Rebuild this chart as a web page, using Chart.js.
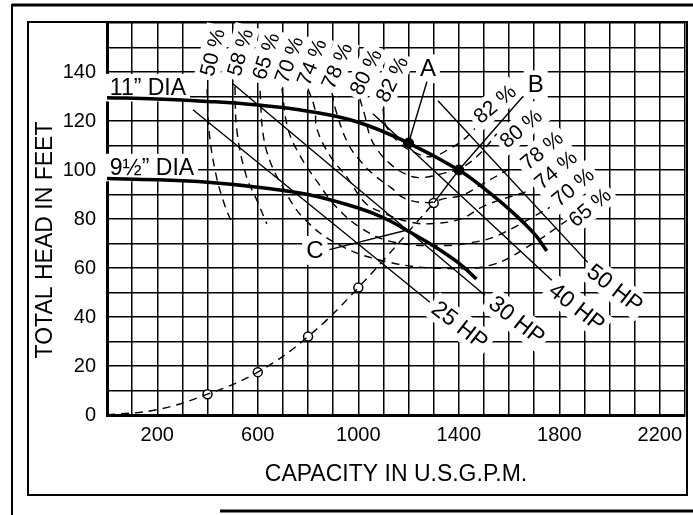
<!DOCTYPE html>
<html>
<head>
<meta charset="utf-8">
<script src="https://cdn.jsdelivr.net/npm/chart.js@4.4.0/dist/chart.umd.min.js"></script>
<style>
  html, body { margin: 0; padding: 0; background: #fff; }
</style>
</head>
<body>
<canvas id="myChart" width="693" height="515"></canvas>
<script>
// Valori: portata (U.S. GPM) e prevalenza (feet)
var capTicks = [200, 600, 1000, 1400, 1800, 2200];
var headTicks = [0, 20, 40, 60, 80, 100, 120, 140];

// curve delle giranti
var dia11 = [[0,129.5],[200,129],[400,128],[600,126.5],[800,124],[1000,119.5],[1200,111],[1400,100],[1500,92.5],[1600,84],[1700,74],[1750,67]];
var dia95 = [[0,96.5],[200,96],[400,95],[600,93],[800,90],[1000,84.5],[1100,80.5],[1200,75],[1300,69],[1400,62],[1470,55.5]];

// linee di potenza
var hp25 = [[342,124.6],[1285,46]];
var hp30 = [[501,135.2],[1504,48.9]];
var hp40 = [[1058,123],[1770,55]];
var hp50 = [[1317,128.3],[1913,62.3]];

// curve di rendimento
var eff50 = [[398,133],[406,116],[434,98],[469,85.5],[501,77.5]];
var eff58 = [[509,134],[517,116],[553,98],[597,87.5],[636,78]];
var eff65 = [[609,132.3],[621,114.8],[648,103.8],[696,93.7],[780,80.6],[927,69.2],[1126,62.3],[1325,59.9],[1524,61.1],[1683,69.2],[1830,79.4]];
var eff70 = [[696,133.2],[720,116.9],[768,105.9],[847,93.7],[907,85.5],[1014,76.1],[1146,70.4],[1333,69.2],[1452,70.4],[1555,73.3],[1762,84.7]];
var eff74 = [[800,133.2],[827,125],[835,116.9],[887,105.9],[959,96.5],[1026,86.7],[1094,82.7],[1213,78.6],[1305,78.2],[1412,80.2],[1504,85.5],[1683,91.6]];
var eff78 = [[895,131.5],[911,124.2],[959,110.8],[1014,103],[1066,97.7],[1130,92.8],[1185,88.4],[1277,86.7],[1345,88.4],[1412,89.6],[1484,93.7],[1603,100.6]];
var eff80 = [[1006,129.1],[1026,122.2],[1046,114],[1078,107.9],[1126,102.6],[1185,98.5],[1245,96.9],[1333,98.5],[1412,101],[1484,106.7],[1551,114.8]];
var eff82 = [[1098,125],[1110,118.1],[1166,110.8],[1225,107.1],[1293,105.5],[1364,108.7],[1424,112.8],[1464,116.9]];

// curva dell'impianto e punti di lavoro
var system = [[0,0],[200,2.2],[400,8.5],[600,17.5],[800,32],[1000,52],[1300,86.5]];
var systemMarks = [[400,8.5],[600,17.5],[800,32],[1000,52],[1300,86.5]];
var dutyPoints = [[1200,111],[1400,100]];
var leaderA = [[1200,111],[1273,136]];
var leaderB = [[1300,86.5],[1400,100],[1655,130]];
var leaderC = [[885,67.5],[1195,75.5]];

function pts(a) { return a.map(function (p) { return { x: p[0], y: p[1] }; }); }

var FONT = '"Liberation Sans", Arial, Helvetica, sans-serif';

function thick(d) { return { data: pts(d), borderColor: '#000', borderWidth: 3.5, tension: 0.4, pointRadius: 0 }; }
function thin(d) { return { data: pts(d), borderColor: '#000', borderWidth: 1.4, tension: 0, pointRadius: 0 }; }
function dashed(d) { return { data: pts(d), borderColor: '#000', borderWidth: 1.4, borderDash: [8, 6], tension: 0.4, pointRadius: 0 }; }

// scritte sul grafico (in coordinate dei dati)
var notes = [
  { t: '11\u201D DIA', q: 163, h: 133.6, r: 0, s: 23 },
  { t: '9\u00BD\u201D DIA', q: 179, h: 101, r: 0, s: 23 },
  { t: '50 %', q: 420, h: 148, r: -76, s: 21 },
  { t: '58 %', q: 530, h: 148, r: -74, s: 21 },
  { t: '65 %', q: 632, h: 146.5, r: -72, s: 21 },
  { t: '70 %', q: 724, h: 145, r: -70, s: 21 },
  { t: '74 %', q: 815, h: 144, r: -68, s: 21 },
  { t: '78 %', q: 915, h: 142.5, r: -66, s: 21 },
  { t: '80 %', q: 1030, h: 140, r: -64, s: 21 },
  { t: '82 %', q: 1134, h: 137, r: -64, s: 21 },
  { t: '82 %', q: 1543, h: 127, r: -40, s: 21 },
  { t: '80 %', q: 1647, h: 117, r: -40, s: 21 },
  { t: '78 %', q: 1730, h: 108, r: -40, s: 21 },
  { t: '74 %', q: 1786, h: 100, r: -40, s: 21 },
  { t: '70 %', q: 1854, h: 93, r: -40, s: 21 },
  { t: '65 %', q: 1921, h: 84.7, r: -40, s: 21 },
  { t: '25 HP', q: 1404, h: 36.6, r: 38, s: 23 },
  { t: '30 HP', q: 1631, h: 38.7, r: 38, s: 23 },
  { t: '40 HP', q: 1870, h: 44, r: 38, s: 23 },
  { t: '50 HP', q: 2021, h: 51.7, r: 38, s: 23 },
  { t: 'A', q: 1277, h: 141.3, r: 0, s: 24 },
  { t: 'B', q: 1706, h: 134.8, r: 0, s: 24 },
  { t: 'C', q: 827, h: 67.2, r: 0, s: 24 }
];

function eachNote(chart, fn) {
  var ctx = chart.ctx, xs = chart.scales.x, ys = chart.scales.y;
  notes.forEach(function (n) {
    ctx.save();
    ctx.translate(xs.getPixelForValue(n.q), ys.getPixelForValue(n.h));
    ctx.rotate(n.r * Math.PI / 180);
    ctx.font = n.s + 'px ' + FONT;
    ctx.textAlign = 'center';
    ctx.textBaseline = 'middle';
    fn(ctx, n);
    ctx.restore();
  });
}

var frames = {
  id: 'frames',
  beforeDraw: function (chart) {
    var ctx = chart.ctx;
    ctx.save();
    ctx.fillStyle = '#fff';
    ctx.fillRect(0, 0, chart.width, chart.height);
    ctx.strokeStyle = '#000';
    ctx.lineWidth = 3;
    ctx.beginPath();
    ctx.moveTo(12, 5); ctx.lineTo(693, 5);
    ctx.moveTo(220, 511); ctx.lineTo(693, 511);
    ctx.stroke();
    ctx.lineWidth = 2;
    ctx.beginPath();
    ctx.moveTo(12, 4); ctx.lineTo(12, 515);
    ctx.stroke();
    ctx.strokeRect(28, 22, 659, 473);
    // titolo asse verticale
    ctx.translate(46, 240);
    ctx.rotate(-Math.PI / 2);
    ctx.font = '23px ' + FONT;
    ctx.fillStyle = '#000';
    ctx.textAlign = 'center';
    ctx.textBaseline = 'middle';
    ctx.fillText('TOTAL HEAD IN FEET', 0, 0);
    ctx.restore();
  },
  beforeDatasetsDraw: function (chart) {
    eachNote(chart, function (ctx, n) {
      var w = ctx.measureText(n.t).width;
      ctx.fillStyle = '#fff';
      ctx.fillRect(-w / 2 - 4, -n.s * 0.6, w + 8, n.s * 1.2);
    });
  },
  afterDatasetsDraw: function (chart) {
    eachNote(chart, function (ctx, n) {
      ctx.fillStyle = '#000';
      ctx.fillText(n.t, 0, 1);
    });
  }
};

var ctx = document.getElementById('myChart').getContext('2d');
var chart = new Chart(ctx, {
  type: 'line',
  data: {
    datasets: [
      thick(dia11), thick(dia95),
      thin(hp25), thin(hp30), thin(hp40), thin(hp50),
      dashed(eff50), dashed(eff58), dashed(eff65), dashed(eff70),
      dashed(eff74), dashed(eff78), dashed(eff80), dashed(eff82),
      dashed(system),
      thin(leaderA), thin(leaderB), thin(leaderC),
      { data: pts(systemMarks), showLine: false, pointRadius: 4.5, pointBackgroundColor: '#fff', pointBorderColor: '#000', pointBorderWidth: 1.5 },
      { data: pts(dutyPoints), showLine: false, pointRadius: 5, pointBackgroundColor: '#000', pointBorderColor: '#000' }
    ]
  },
  options: {
    responsive: false,
    animation: false,
    devicePixelRatio: 1,
    layout: { padding: { top: 22, right: 6, left: 0, bottom: 0 } },
    plugins: { legend: { display: false }, tooltip: { enabled: false } },
    scales: {
      x: {
        type: 'linear', min: 0, max: 2300,
        afterFit: function (s) { s.height = 100; },
        ticks: {
          stepSize: 100, autoSkip: false, maxRotation: 0, padding: 8, color: '#000',
          font: { family: FONT, size: 20 },
          callback: function (v) { return capTicks.indexOf(v) >= 0 ? String(v) : ''; }
        },
        grid: { color: '#000', lineWidth: 1.5, drawTicks: false },
        border: { color: '#000', width: 3 },
        title: { display: true, text: 'CAPACITY IN U.S.G.P.M.', color: '#000', font: { family: FONT, size: 23 }, padding: { top: 0, bottom: 27 } }
      },
      y: {
        type: 'linear', min: 0, max: 160,
        afterFit: function (s) { s.width = 107; },
        ticks: {
          stepSize: 10, autoSkip: false, padding: 11, color: '#000',
          font: { family: FONT, size: 20 },
          callback: function (v) { return headTicks.indexOf(v) >= 0 ? String(v) : ''; }
        },
        grid: { color: '#000', lineWidth: 1.5, drawTicks: false },
        border: { color: '#000', width: 3 },
        title: { display: false }
      }
    }
  },
  plugins: [frames]
});
</script>
</body>
</html>
